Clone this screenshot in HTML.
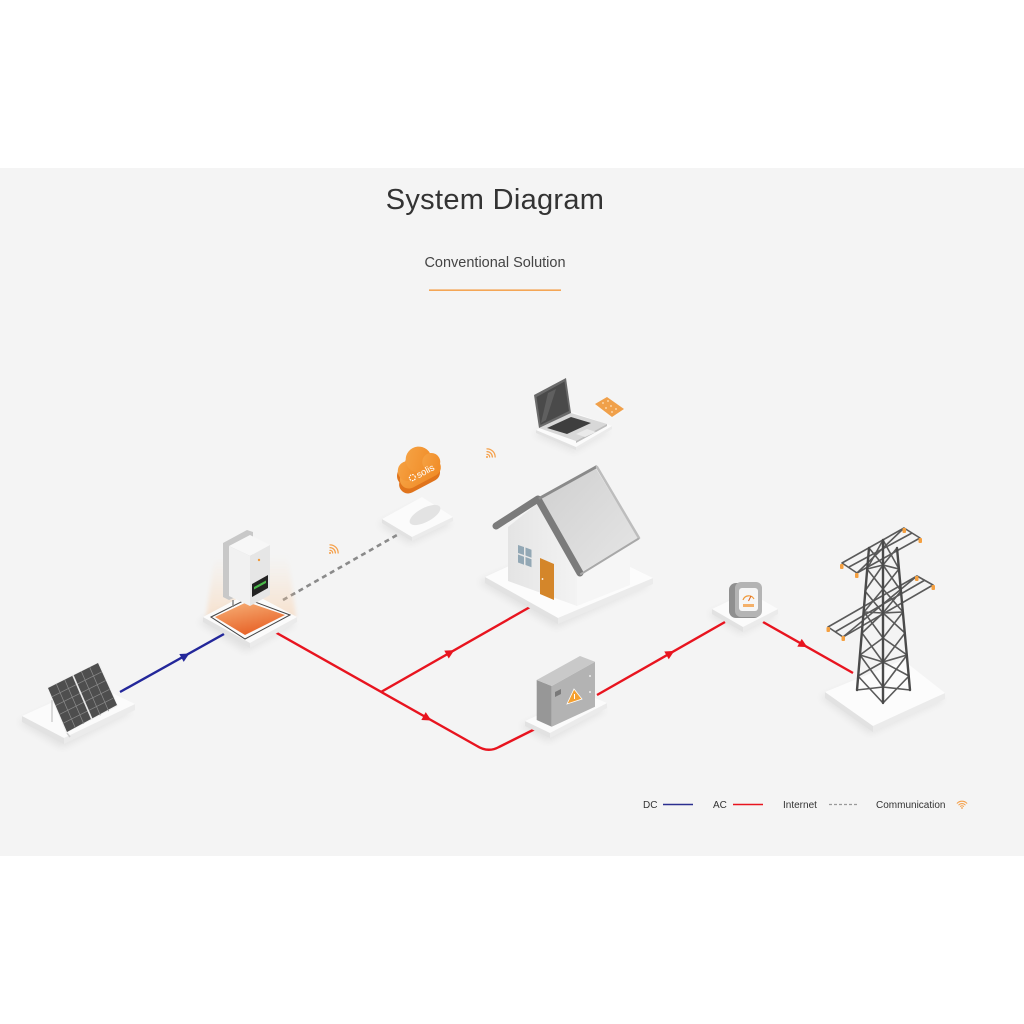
<!DOCTYPE html>
<html>
<head>
<meta charset="utf-8">
<style>
  html,body{margin:0;padding:0;background:#ffffff;}
  body{width:1024px;height:1024px;overflow:hidden;}
  svg{display:block;}
  text{font-family:"Liberation Sans","DejaVu Sans",sans-serif;}
</style>
</head>
<body>
<svg width="1024" height="1024" viewBox="0 0 1024 1024" xmlns="http://www.w3.org/2000/svg">
  <defs>
    <filter id="blur" x="-30%" y="-30%" width="160%" height="160%">
      <feGaussianBlur stdDeviation="4"/>
    </filter>
    <filter id="blur2" x="-30%" y="-30%" width="160%" height="160%">
      <feGaussianBlur stdDeviation="2"/>
    </filter>
    <linearGradient id="orangeSq" x1="0" y1="0" x2="0.4" y2="1">
      <stop offset="0" stop-color="#f7b37a"/>
      <stop offset="1" stop-color="#e8652a"/>
    </linearGradient>
    <linearGradient id="glow" x1="0" y1="0" x2="0" y2="1">
      <stop offset="0" stop-color="#fbd2a8" stop-opacity="0"/>
      <stop offset="1" stop-color="#f9c08e" stop-opacity="0.55"/>
    </linearGradient>
    <linearGradient id="roof" x1="0" y1="0" x2="1" y2="1">
      <stop offset="0" stop-color="#cfcfcf"/>
      <stop offset="1" stop-color="#e6e6e6"/>
    </linearGradient>
    <linearGradient id="wallF" x1="0" y1="0" x2="1" y2="0">
      <stop offset="0" stop-color="#e4e4e4"/>
      <stop offset="1" stop-color="#f3f3f3"/>
    </linearGradient>
    <linearGradient id="cloudG" x1="0" y1="0" x2="1" y2="1">
      <stop offset="0" stop-color="#f6a446"/>
      <stop offset="1" stop-color="#f08a25"/>
    </linearGradient>
  </defs>

  <!-- grey band -->
  <rect x="0" y="168" width="1024" height="688" fill="#f4f4f4"/>

  <!-- Title -->
  <text x="495" y="209" font-size="29" fill="#333" text-anchor="middle" letter-spacing="0.3">System Diagram</text>
  <text x="495" y="267" font-size="14.5" fill="#444" text-anchor="middle">Conventional Solution</text>
  <rect x="429" y="289.5" width="132" height="1.3" fill="#f3922f"/>

  <!-- ============ Platform shadows ============ -->
  <g filter="url(#blur)" fill="#000" opacity="0.07">
    <polygon points="18,722 90,690 132,712 62,748"/>
    <polygon points="198,622 248,598 296,624 246,652"/>
    <polygon points="378,524 420,503 452,524 410,544"/>
    <polygon points="478,582 568,545 650,585 556,628"/>
    <polygon points="520,726 583,700 606,710 548,742"/>
    <polygon points="708,614 746,598 777,615 741,634"/>
    <polygon points="820,697 900,667 944,700 870,734"/>
    <polygon points="533,434 571,417 610,431 574,452"/>
  </g>

  <!-- ============ Solar platform ============ -->
  <g>
    <polygon points="22,716 64,738 64,744 22,722" fill="#e2e2e2"/>
    <polygon points="64,738 135,704 135,710 64,744" fill="#ebebeb"/>
    <polygon points="22,716 93,684 135,704 64,738" fill="#fbfbfb"/>
    <!-- stand -->
    <line x1="52" y1="700" x2="52" y2="722" stroke="#cfcfcf" stroke-width="1.5"/>
    <line x1="67" y1="733" x2="70" y2="737" stroke="#cfcfcf" stroke-width="1.5"/>
    <!-- panel -->
    <polygon points="47,687 99,662 118,706 66,733" fill="#f0f0f0"/>
    <polygon points="48,688 98,663 117,705 67,732" fill="#4e4e4e"/>
    <g stroke="#8a8a8a" stroke-width="0.7">
      <line x1="56.3" y1="683.8" x2="75.3" y2="727.8"/>
      <line x1="64.7" y1="679.7" x2="83.7" y2="723.7"/>
      <line x1="81.3" y1="671.3" x2="100.3" y2="715.3"/>
      <line x1="89.7" y1="667.2" x2="108.7" y2="711.2"/>
      <line x1="51.8" y1="696.8" x2="101.8" y2="671.8"/>
      <line x1="55.6" y1="705.6" x2="105.6" y2="680.6"/>
      <line x1="59.4" y1="714.4" x2="109.4" y2="689.4"/>
      <line x1="63.2" y1="723.2" x2="113.2" y2="698.2"/>
    </g>
    <line x1="73" y1="675.5" x2="92" y2="719.5" stroke="#e8e8e8" stroke-width="1.6"/>
  </g>

  <!-- DC line -->
  <line x1="120" y1="692" x2="224" y2="634" stroke="#23279a" stroke-width="2.4"/>
  <polygon points="5,0 -4,-4.5 -4,4.5" fill="#23279a" transform="translate(185,656) rotate(-29.2)"/>

  <!-- ============ AC lines ============ -->
  <g stroke="#e8141f" stroke-width="2.4" fill="none" stroke-linejoin="round">
    <path d="M275,632 L477,746 Q488,753 499,747 L537,728"/>
    <path d="M381,692 L530,607"/>
    <path d="M597,695 L725,622"/>
    <path d="M763,622 L853,673"/>
  </g>
  <g fill="#e8141f">
    <polygon points="5,0 -4,-4.5 -4,4.5" transform="translate(450,652.6) rotate(-29.7)"/>
    <polygon points="5,0 -4,-4.5 -4,4.5" transform="translate(427,718) rotate(29.4)"/>
    <polygon points="5,0 -4,-4.5 -4,4.5" transform="translate(670,653.4) rotate(-29.7)"/>
    <polygon points="5,0 -4,-4.5 -4,4.5" transform="translate(803,644.7) rotate(29.5)"/>
  </g>

  <!-- Internet dashed line -->
  <line x1="283" y1="600" x2="397" y2="535" stroke="#8a8a8a" stroke-width="2.6" stroke-dasharray="5,4"/>

  <!-- ============ Inverter ============ -->
  <g>
    <polygon points="206,618 214,560 288,556 296,617 250,640" fill="url(#glow)" filter="url(#blur2)"/>
    <polygon points="203,617 250,643 250,648 203,622" fill="#e2e2e2"/>
    <polygon points="250,643 297,617 297,622 250,648" fill="#ebebeb"/>
    <polygon points="203,617 250,592 297,617 250,643" fill="#fbfbfb"/>
    <polygon points="211,617 247,599 290,615 245,639" fill="none" stroke="#444" stroke-width="1"/>
    <polygon points="215,617 247,602 285,615 245,635" fill="url(#orangeSq)"/>
    <!-- back plate -->
    <polygon points="223,543 247,530 253,532 253,590 229,600 223,597" fill="#c8c8c8"/>
    <!-- box -->
    <polygon points="229,546 250,535 270,545 250,556" fill="#f7f7f7"/>
    <polygon points="229,546 250,556 250,606 229,596" fill="#f1f1f1"/>
    <polygon points="250,556 270,545 270,595 250,606" fill="#e6e6e6"/>
    <polygon points="252,584 268,575 268,588 252,597" fill="#222"/>
    <polygon points="254,587 266,580.5 266,583 254,589.5" fill="#49b84a"/>
    <circle cx="259" cy="560" r="1.2" fill="#f09a3a"/>
    <line x1="233" y1="600" x2="233" y2="607" stroke="#888" stroke-width="1.5"/>
  </g>

  <!-- ============ Cloud ============ -->
  <g>
    <polygon points="382,519 412,537 412,541 382,523" fill="#e2e2e2"/>
    <polygon points="412,537 453,517 453,521 412,541" fill="#ebebeb"/>
    <polygon points="382,519 422,497 453,517 412,537" fill="#fbfbfb"/>
    <ellipse cx="425" cy="515" rx="17" ry="7" fill="#e3e3e3" transform="rotate(-28 425 515)"/>
    <g transform="translate(418,469) rotate(-28)">
      <g fill="#e0741c" transform="translate(-3,4)">
        <rect x="-22" y="-4" width="44" height="18" rx="9"/>
        <circle cx="-10" cy="-3" r="10"/>
        <circle cx="5" cy="-8" r="13"/>
        <circle cx="15" cy="0" r="9"/>
      </g>
      <g fill="url(#cloudG)">
        <rect x="-22" y="-4" width="44" height="18" rx="9"/>
        <circle cx="-10" cy="-3" r="10"/>
        <circle cx="5" cy="-8" r="13"/>
        <circle cx="15" cy="0" r="9"/>
      </g>
      <circle cx="-9" cy="5" r="3" fill="none" stroke="#fff" stroke-width="1.2" stroke-dasharray="1.5,1"/>
      <text x="-4" y="8.5" font-size="9.5" fill="#fff">solis</text>
    </g>
  </g>

  <!-- ============ Laptop ============ -->
  <g>
    <polygon points="536,430 576,447 576,450 536,433" fill="#e2e2e2"/>
    <polygon points="576,447 612,426 612,429 576,450" fill="#ebebeb"/>
    <polygon points="536,430 573,412 612,426 576,447" fill="#fbfbfb"/>
    <polygon points="539,428 571,413 607,424 576,441" fill="#d8d8d8"/>
    <polygon points="576,441 607,424 607,426 576,443" fill="#bdbdbd"/>
    <polygon points="547,428 571,417 591,423 567,434" fill="#3e3e3e"/>
    <polygon points="576,434 587,429 596,432 585,437" fill="#eaeaea"/>
    <polygon points="539,428 534,395 566,378 571,413" fill="#6a6a6a"/>
    <polygon points="540.5,425 536.5,397 564.5,381.5 569,411" fill="#4a4a4a"/>
    <polygon points="548,393 556,389 546,420 541,423" fill="#5f5f5f"/>
    <!-- card -->
    <polygon points="593,406 607,398 626,410 612,419" fill="#f6f6f6"/>
    <polygon points="595,404 607,397 624,409 612,417" fill="#f0a04a"/>
    <g fill="#fde2c0">
      <circle cx="603" cy="403" r="0.9"/><circle cx="608" cy="401" r="0.9"/>
      <circle cx="611" cy="406" r="0.9"/><circle cx="616" cy="409" r="0.9"/>
      <circle cx="606" cy="408" r="0.9"/><circle cx="612" cy="412" r="0.9"/>
    </g>
  </g>

  <!-- ============ House ============ -->
  <g>
    <polygon points="485,577 558,618 558,624 485,583" fill="#e2e2e2"/>
    <polygon points="558,618 653,578 653,584 558,624" fill="#ebebeb"/>
    <polygon points="485,577 570,538 653,578 558,618" fill="#fcfcfc"/>
    <polygon points="508,527 538,503 577,567 577,606 508,581" fill="url(#wallF)"/>
    <polygon points="577,567 630,540 630,585 577,606" fill="#f6f6f6"/>
    <polygon points="538,500 595,467 638,538 580,573" fill="url(#roof)"/>
    <polyline points="496,526 538,499 580,573" fill="none" stroke="#7b7b7b" stroke-width="7" stroke-linejoin="round" stroke-linecap="round"/>
    <line x1="540" y1="498" x2="596" y2="467" stroke="#8a8a8a" stroke-width="3" stroke-linecap="round"/>
    <line x1="597" y1="467" x2="639" y2="538" stroke="#bdbdbd" stroke-width="2.5" stroke-linecap="round"/>
    <line x1="581" y1="574" x2="638" y2="539" stroke="#a8a8a8" stroke-width="2" stroke-linecap="round"/>
    <g fill="#93a8b5">
      <polygon points="518,545 524,547 524,555 518,553"/>
      <polygon points="525.5,547.5 531.5,549.7 531.5,557.7 525.5,555.5"/>
      <polygon points="518,554.5 524,556.7 524,564.7 518,562.5"/>
      <polygon points="525.5,557 531.5,559.2 531.5,567.2 525.5,565"/>
    </g>
    <polygon points="540,558 554,564 554,600 540,594" fill="#d4862a"/>
    <circle cx="542.5" cy="579" r="0.9" fill="#fff"/>
  </g>

  <!-- ============ Junction box ============ -->
  <g>
    <polygon points="525,721 550,733 550,738 525,726" fill="#e2e2e2"/>
    <polygon points="550,733 607,703 607,708 550,738" fill="#ebebeb"/>
    <polygon points="525,721 585,694 607,703 550,733" fill="#fbfbfb"/>
    <polygon points="536.7,680 551.7,686 551.7,726.7 536.7,720" fill="#979797"/>
    <polygon points="551.7,686 595,661.7 595,706.7 551.7,726.7" fill="#b3b3b3"/>
    <polygon points="536.7,680 580,656 595,661.7 551.7,686" fill="#c9c9c9"/>
    <polygon points="555,692 561,689 561,694 555,697" fill="#7a7a7a"/>
    <polygon points="567,704 574,689 582,699" fill="#f5a030" stroke="#fff" stroke-width="0.8"/>
    <line x1="574.5" y1="694" x2="574.5" y2="699" stroke="#fff" stroke-width="1"/>
    <circle cx="590" cy="676" r="1" fill="#eee"/>
    <circle cx="590" cy="692" r="1" fill="#eee"/>
  </g>

  <!-- ============ Meter ============ -->
  <g>
    <polygon points="712,609 743,627 743,632 712,614" fill="#e2e2e2"/>
    <polygon points="743,627 778,609 778,614 743,632" fill="#ebebeb"/>
    <polygon points="712,609 748,592 778,609 743,627" fill="#fbfbfb"/>
    <rect x="729" y="583" width="32" height="35" rx="7" fill="#8f8f8f"/>
    <rect x="735" y="582" width="27" height="35" rx="6" fill="#b4b4b4"/>
    <rect x="739" y="588" width="19" height="23" rx="3" fill="#f6f6f6"/>
    <path d="M743,600 A6,6 0 0 1 754,599" fill="none" stroke="#f09a3a" stroke-width="1.2"/>
    <line x1="748.5" y1="601" x2="751" y2="596" stroke="#e0601a" stroke-width="1"/>
    <rect x="743" y="604" width="11" height="3" fill="#f4b069"/>
  </g>

  <!-- ============ Tower ============ -->
  <g>
    <polygon points="825,692 873,726 873,732 825,698" fill="#e2e2e2"/>
    <polygon points="873,726 945,693 945,699 873,732" fill="#ebebeb"/>
    <polygon points="825,692 903,660 945,693 873,726" fill="#fcfcfc"/>
    <g stroke="#5a5a5a" stroke-width="1.6" fill="none" stroke-linejoin="round">
      <!-- arms -->
      <polygon points="842,563 904,528 920,538 857,573"/>
      <line x1="857" y1="573" x2="904" y2="528"/>
      <line x1="849" y1="567" x2="912" y2="533"/>
      <polygon points="828,627 917,576 933,585 843,637"/>
      <line x1="843" y1="637" x2="917" y2="576"/>
      <line x1="835" y1="632" x2="925" y2="580"/>
      <!-- zigzags -->
      <polyline points="869,548 883,565 865,591 883,613 862,633 883,662 858,676 883,703"/>
      <polyline points="883,540 867,569 883,589 864,612 883,638 860,655 883,687 857,690"/>
      <polyline points="897,548 883,565 901,591 883,613 905,633 883,662 909,676 883,703"/>
      <polyline points="883,540 899,569 883,589 903,612 883,638 907,655 883,687 910,690"/>
      <polyline points="867,569 883,565 899,569"/>
      <polyline points="864,612 883,613 903,612"/>
      <polyline points="860,655 883,662 907,655"/>
    </g>
    <g stroke="#4a4a4a" stroke-width="2.4" stroke-linecap="round">
      <line x1="869" y1="548" x2="857" y2="690"/>
      <line x1="883" y1="540" x2="883" y2="703"/>
      <line x1="897" y1="548" x2="910" y2="690"/>
    </g>
    <g fill="#f5a040">
      <rect x="840" y="564" width="3.5" height="5" rx="1"/>
      <rect x="855" y="573" width="3.5" height="5" rx="1"/>
      <rect x="902.5" y="528" width="3.5" height="5" rx="1"/>
      <rect x="918.5" y="538" width="3.5" height="5" rx="1"/>
      <rect x="826.5" y="627" width="3.5" height="5" rx="1"/>
      <rect x="841.5" y="636" width="3.5" height="5" rx="1"/>
      <rect x="915" y="576" width="3.5" height="5" rx="1"/>
      <rect x="931.5" y="585" width="3.5" height="5" rx="1"/>
    </g>
  </g>

  <!-- ============ Wifi icons ============ -->
  <g fill="none" stroke="#f5a04a" stroke-width="1.4" stroke-linecap="round">
    <g transform="translate(330,553) rotate(45) scale(0.9)">
      <path d="M-2.1,-2.1 A3,3 0 0 1 2.1,-2.1"/>
      <path d="M-4.2,-4.2 A6,6 0 0 1 4.2,-4.2"/>
      <path d="M-6.4,-6.4 A9,9 0 0 1 6.4,-6.4"/>
    </g>
    <g transform="translate(487,457) rotate(45) scale(0.9)">
      <path d="M-2.1,-2.1 A3,3 0 0 1 2.1,-2.1"/>
      <path d="M-4.2,-4.2 A6,6 0 0 1 4.2,-4.2"/>
      <path d="M-6.4,-6.4 A9,9 0 0 1 6.4,-6.4"/>
    </g>
    <g transform="translate(962,808) scale(0.75)">
      <path d="M-2.1,-2.1 A3,3 0 0 1 2.1,-2.1"/>
      <path d="M-4.2,-4.2 A6,6 0 0 1 4.2,-4.2"/>
      <path d="M-6.4,-6.4 A9,9 0 0 1 6.4,-6.4"/>
    </g>
  </g>
  <circle cx="330" cy="553" r="1" fill="#f5a04a"/>
  <circle cx="487" cy="457" r="1" fill="#f5a04a"/>
  <circle cx="962" cy="808" r="0.9" fill="#f5a04a"/>

  <!-- ============ Legend ============ -->
  <g font-size="10" fill="#333">
    <text x="643" y="808">DC</text>
    <text x="713" y="808">AC</text>
    <text x="783" y="808">Internet</text>
    <text x="876" y="808">Communication</text>
  </g>
  <line x1="663" y1="804.5" x2="693" y2="804.5" stroke="#2b2f8f" stroke-width="1.5"/>
  <line x1="733" y1="804.5" x2="763" y2="804.5" stroke="#e8141f" stroke-width="1.5"/>
  <line x1="829" y1="804.5" x2="857" y2="804.5" stroke="#999" stroke-width="1.2" stroke-dasharray="3,2"/>
</svg>
</body>
</html>
